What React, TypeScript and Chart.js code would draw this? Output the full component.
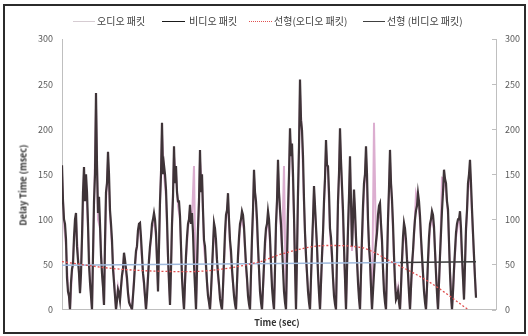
import React, { useEffect, useRef } from "react";
import { Chart, registerables } from "chart.js";

Chart.register(...registerables);

// sampling intervals of the delay series (x units)
const VIDEO_STEP = 1;
const AUDIO_STEP = 2;

const videoDelay = [
  160, 120, 100, 95, 78, 35, 20, 15, 0, 30,
  45, 50, 80, 100, 107, 70, 55, 40, 18, 40,
  80, 130, 158, 120, 150, 130, 95, 50, 30, 15,
  0, 60, 120, 150, 240, 160, 107, 125, 95, 60,
  40, 25, 5, 75, 130, 140, 175, 150, 110, 95,
  77, 45, 30, 15, 0, 10, 22, 18, 10, 25,
  38, 45, 63, 55, 45, 35, 18, 8, 5, 3,
  0, 15, 30, 50, 65, 70, 88, 95, 96, 80,
  60, 40, 30, 15, 0, 15, 35, 55, 70, 80,
  95, 100, 107, 100, 85, 55, 20, 70, 120, 150,
  207, 150, 160, 150, 133, 100, 60, 30, 5, 45,
  95, 125, 181, 140, 159, 130, 120, 120, 104, 70,
  35, 15, 0, 30, 60, 80, 95, 100, 116, 95,
  107, 85, 50, 25, 0, 45, 90, 120, 177, 130,
  150, 110, 77, 70, 50, 30, 15, 8, 0, 20,
  45, 70, 96, 90, 77, 55, 40, 28, 12, 5,
  0, 25, 55, 85, 105, 110, 129, 100, 77, 65,
  45, 30, 15, 6, 0, 30, 60, 80, 95, 100,
  109, 105, 92, 70, 50, 35, 15, 6, 0, 40,
  80, 110, 155, 130, 120, 100, 70, 45, 20, 8,
  0, 25, 50, 75, 90, 95, 109, 100, 80, 50,
  25, 10, 0, 45, 95, 120, 166, 130, 111, 95,
  70, 45, 20, 8, 0, 55, 110, 150, 201, 170,
  184, 150, 104, 50, 0, 60, 130, 180, 255, 210,
  199, 170, 122, 85, 60, 40, 20, 8, 0, 35,
  70, 100, 137, 115, 92, 70, 40, 18, 0, 30,
  60, 85, 120, 145, 188, 160, 159, 130, 90, 80,
  60, 35, 15, 6, 0, 60, 120, 150, 201, 165,
  137, 110, 70, 35, 0, 45, 90, 125, 170, 120,
  70, 100, 133, 110, 80, 55, 30, 12, 0, 40,
  80, 115, 140, 150, 181, 150, 100, 70, 55, 25,
  0, 20, 40, 60, 75, 85, 105, 115, 118, 95,
  77, 45, 20, 8, 0, 50, 100, 135, 177, 140,
  122, 95, 60, 30, 11, 14, 20, 8, 0, 25,
  55, 80, 96, 90, 77, 55, 40, 18, 0, 25,
  50, 65, 85, 100, 110, 115, 129, 120, 104, 80,
  60, 40, 20, 8, 0, 25, 55, 80, 95, 100,
  109, 105, 92, 65, 40, 18, 0, 30, 60, 85,
  110, 130, 155, 145, 140, 120, 111, 75, 40, 15,
  0, 20, 45, 65, 85, 95, 100, 100, 109, 90,
  60, 35, 11, 50, 90, 110, 140, 150, 166, 140,
  111, 85, 60, 35, 13,
];

const audioDelay = [
  150, 95, 70, 25, 0, 40, 75, 100, 60, 20,
  75, 150, 140, 90, 35, 0, 110, 225, 100, 90,
  45, 5, 120, 165, 105, 70, 35, 0, 25, 12,
  35, 60, 40, 20, 5, 0, 35, 60, 85, 90,
  55, 25, 0, 40, 65, 90, 100, 80, 25, 115,
  195, 150, 125, 55, 8, 90, 170, 150, 115, 100,
  40, 0, 55, 90, 110, 100, 159, 0, 85, 165,
  140, 70, 45, 18, 0, 40, 90, 70, 35, 15,
  0, 50, 100, 120, 72, 40, 18, 0, 55, 90,
  100, 88, 45, 18, 0, 75, 147, 115, 65, 25,
  0, 45, 85, 100, 75, 30, 0, 90, 155, 105,
  65, 159, 0, 100, 190, 175, 100, 0, 120, 240,
  190, 115, 55, 25, 0, 65, 130, 88, 45, 0,
  55, 115, 178, 150, 85, 55, 20, 0, 115, 190,
  130, 65, 0, 85, 160, 65, 125, 75, 35, 0,
  75, 130, 170, 95, 50, 0, 207, 70, 100, 110,
  72, 25, 0, 95, 165, 115, 55, 15, 25, 0,
  50, 90, 72, 45, 0, 45, 80, 129, 120, 98,
  55, 25, 0, 50, 90, 100, 88, 45, 0, 55,
  146, 145, 130, 105, 45, 0, 40, 80, 95, 100,
  55, 15, 85, 130, 155, 105, 55, 15,
];

const audioTrendTime = [0, 55, 125, 198, 218, 265, 298, 331, 368, 406];
const audioTrendValue = [53, 45, 42, 53, 61, 71, 69, 52, 30, 0];

const videoTrendTime = [0, 338, 414];
const videoTrendValue = [49, 52, 53];

const TIME_MAX = 434;
const Y_MIN = 0;
const Y_MAX = 300;
const Y_STEP = 50;

const seriesLabels = ["오디오 패킷", "비디오 패킷", "선형(오디오 패킷)", "선형 (비디오 패킷)"];
const xTitle = "Time (sec)";
const yTitle = "Delay Time (msec)";

const FONT = "'Malgun Gothic', 'Noto Sans CJK KR', 'Noto Sans', sans-serif";

const toSeries = (vals: number[], step: number) => vals.map((y, i) => ({ x: i * step, y }));
const pairs = (xs: number[], ys: number[]) => xs.map((x, i) => ({ x, y: ys[i] }));

const innerTicks = {
  id: "innerTicks",
  afterDraw(chart: any) {
    const s = chart.scales.y2;
    const ctx = chart.ctx;
    ctx.save();
    ctx.strokeStyle = "#bfbfbf";
    ctx.lineWidth = 1;
    s.ticks.forEach((t: any) => {
      const y = Math.round(s.getPixelForValue(t.value)) + 0.5;
      ctx.beginPath();
      ctx.moveTo(s.left - 4, y);
      ctx.lineTo(s.left, y);
      ctx.stroke();
    });
    ctx.restore();
  },
};

export default function App() {
  const ref = useRef<HTMLCanvasElement | null>(null);

  useEffect(() => {
    if (!ref.current) return;
    const tickFont = { family: FONT, size: 9 };
    const yScale = (pos: "left" | "right", width: number) => ({
      position: pos,
      min: Y_MIN,
      max: Y_MAX,
      ticks: { stepSize: Y_STEP, color: "#595959", font: tickFont, padding: 9 },
      grid: { display: false, drawTicks: false },
      border: { display: true, color: "#bfbfbf", width: 1 },
      afterFit: (s: any) => {
        s.width = width;
      },
    });
    const chart = new Chart(ref.current, {
      type: "line",
      data: {
        datasets: [
          {
            label: seriesLabels[0],
            data: toSeries(audioDelay, AUDIO_STEP),
            borderColor: "#dcaed0",
            borderWidth: 2,
            pointRadius: 0,
            order: 3,
          },
          {
            label: seriesLabels[1],
            data: toSeries(videoDelay, VIDEO_STEP),
            borderColor: "#3f3438",
            borderWidth: 2.2,
            pointRadius: 0,
            order: 2,
          },
          {
            label: seriesLabels[2],
            data: pairs(audioTrendTime, audioTrendValue),
            borderColor: "#e05050",
            borderWidth: 1.3,
            borderDash: [2, 2],
            cubicInterpolationMode: "monotone",
            pointRadius: 0,
            order: 0,
          },
          {
            label: seriesLabels[3],
            data: pairs(videoTrendTime, videoTrendValue),
            borderColor: "#3a3a3a",
            borderWidth: 1.5,
            pointRadius: 0,
            order: 1,
            segment: {
              borderColor: (c: any) => (c.p0.parsed.x < 338 ? "#9fb9dc" : "#3a3a3a"),
            },
          },
        ] as any,
      },
      options: {
        animation: false,
        responsive: false,
        devicePixelRatio: 1,
        layout: { padding: { top: 39, bottom: 26.5, left: 0, right: 0 } },
        plugins: { legend: { display: false }, tooltip: { enabled: false } },
        scales: {
          x: {
            type: "linear",
            min: 0,
            max: TIME_MAX,
            ticks: { display: false },
            grid: { display: false, drawTicks: false },
            border: { display: true, color: "#bfbfbf", width: 1 },
            afterFit: (s: any) => {
              s.height = 0;
            },
          },
          y: yScale("left", 62) as any,
          y2: yScale("right", 32) as any,
        },
      },
      plugins: [innerTicks],
    });
    return () => chart.destroy();
  }, []);

  const legendItems = [
    { lineLeft: 73, lineWidth: 22, textLeft: 97, style: "1.5px solid #d6ccd2" },
    { lineLeft: 162, lineWidth: 23, textLeft: 189, style: "1.5px solid #1a1a1a" },
    { lineLeft: 249, lineWidth: 23, textLeft: 274, style: "1.5px dotted #e05050" },
    { lineLeft: 363, lineWidth: 22, textLeft: 387, style: "1.5px solid #404040" },
  ];

  return (
    <div
      style={{
        position: "fixed",
        left: 0,
        top: 0,
        width: 528,
        height: 336,
        background: "#fff",
        overflow: "hidden",
        fontFamily: FONT,
      }}
    >
      <canvas ref={ref} width={528} height={336} style={{ position: "absolute", left: 0, top: 0 }} />
      {legendItems.map((it, i) => (
        <React.Fragment key={i}>
          <div
            style={{
              position: "absolute",
              left: it.lineLeft,
              top: 21,
              width: it.lineWidth,
              height: 0,
              borderTop: it.style,
            }}
          />
          <div
            style={{
              position: "absolute",
              left: it.textLeft,
              top: 14,
              fontSize: 10,
              lineHeight: "14px",
              color: "#404040",
              whiteSpace: "nowrap",
            }}
          >
            {seriesLabels[i]}
          </div>
        </React.Fragment>
      ))}
      <div
        style={{
          position: "absolute",
          left: 23,
          top: 185,
          transform: "translate(-50%, -50%) rotate(-90deg)",
          fontSize: 9,
          fontWeight: "bold",
          color: "#333",
          whiteSpace: "nowrap",
        }}
      >
        {yTitle}
      </div>
      <div
        style={{
          position: "absolute",
          left: 277,
          top: 322,
          transform: "translate(-50%, -50%)",
          fontSize: 9,
          fontWeight: "bold",
          color: "#333",
          whiteSpace: "nowrap",
        }}
      >
        {xTitle}
      </div>
      <div
        style={{
          position: "absolute",
          left: 3,
          top: 4,
          width: 523,
          height: 330,
          border: "2px solid #2b2b2b",
          boxSizing: "border-box",
          pointerEvents: "none",
        }}
      />
    </div>
  );
}
